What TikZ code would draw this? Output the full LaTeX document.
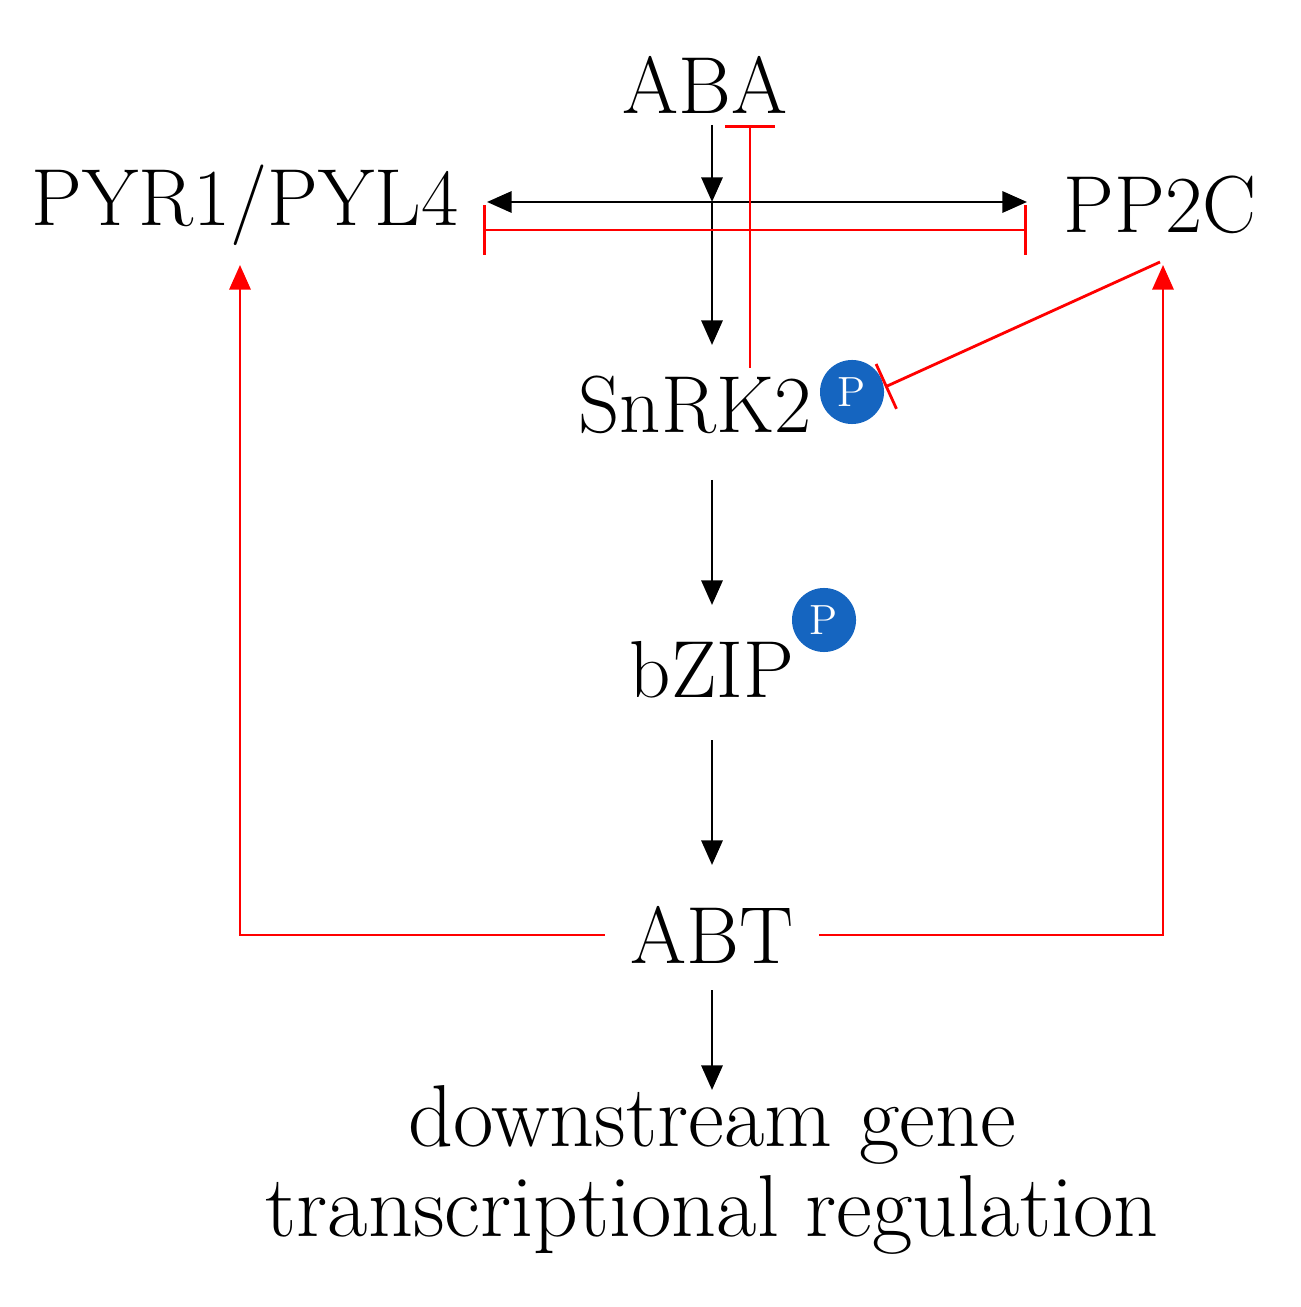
\documentclass[tikz,border=0pt]{standalone}
\usepackage{tikz}
\usetikzlibrary{arrows.meta}
\definecolor{pblue}{RGB}{21,101,192}
\begin{document}
\begin{tikzpicture}[x=0.01cm,y=-0.01cm]
        \tikzstyle{every node}=[font=\fontsize{23}{27}\selectfont, inner sep=0pt];
        \tikzstyle{act}=[draw, thick, -{Triangle[length=7pt,width=6pt]}];
        \tikzstyle{inh}=[draw=red, thick, -{Bar[width=14pt]}];
        \tikzstyle{phos}=[circle, fill=pblue, text=white, minimum size=0.64cm, font=\fontsize{12}{13}\selectfont];
        \useasboundingbox (0,0) rectangle (1301,1307);
        % proteins
        \node (aba) at (705,85) {ABA};
        \node (pyr) at (245,205) {PYR1/PYL4};
        \node (pp2c) at (1160,205) {PP2C};
        \node (snrk) at (695,405) {SnRK2};
        \node[phos] (p1) at (852,392) {P};
        \node (bzip) at (712,670) {bZIP};
        \node[phos] (p2) at (824,620) {P};
        \node (abt) at (712,935) {ABT};
        \node[align=center, font=\fontsize{25}{23}\selectfont] (gene) at (712,1170) {downstream gene\\[0.1cm]transcriptional regulation};
        % helper points
        \coordinate (abaB) at (712,125);
        \coordinate (mid) at (712,202);
        \coordinate (snT) at (712,345);
        \coordinate (pyrR) at (487,202);
        \coordinate (ppL) at (1027,202);
        \coordinate (barL) at (483,230);
        \coordinate (barR) at (1027,230);
        \coordinate (snR) at (750,368);
        \coordinate (abaR) at (750,125);
        \coordinate (ppB) at (1160,262);
        \coordinate (pT) at (885,387);
        % black pathway
        \draw[act] (abaB) -- (mid);
        \draw[act] (mid) -- (snT);
        \draw[act, {Triangle[length=7pt,width=6pt]}-{Triangle[length=7pt,width=6pt]}] (pyrR) -- (ppL);
        \draw[act] (712,480) -- (712,605);
        \draw[act] (712,740) -- (712,865);
        \draw[act] (712,990) -- (712,1090);
        % red feedback
        \draw[inh, {Bar[width=14pt]}-{Bar[width=14pt]}] (barL) -- (barR);
        \draw[inh] (snR) -- (abaR);
        \draw[inh] (ppB) -- (pT);
        \draw[red, thick, -{Triangle[length=7pt,width=6pt]}] (abt.west) ++(-25,0) -| (240,265);
        \draw[red, thick, -{Triangle[length=7pt,width=6pt]}] (abt.east) ++(25,0) -| (1163,265);
    \end{tikzpicture}
\end{document}
